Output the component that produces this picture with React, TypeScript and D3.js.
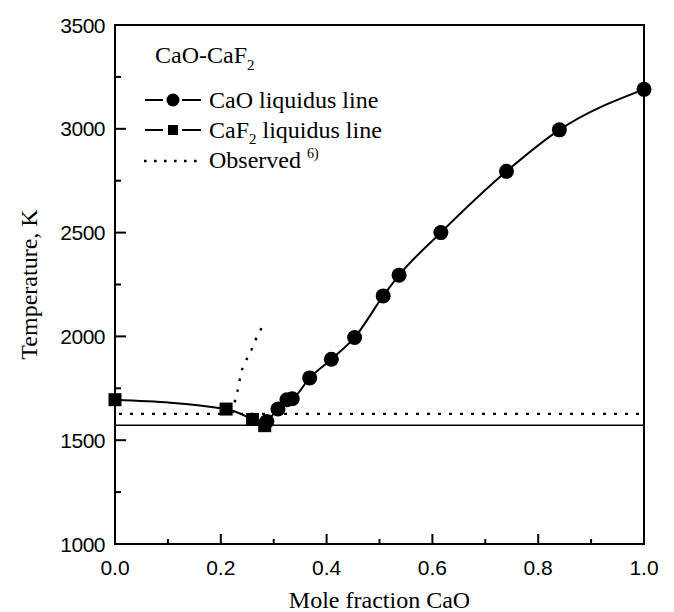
import { useEffect, useRef } from 'react';
import * as d3 from 'd3';

// CaO liquidus (circles)
const caoX = [0.287, 0.308, 0.325, 0.335, 0.368, 0.409, 0.453, 0.507, 0.537, 0.616, 0.74, 0.84, 1.0];
const caoT = [1590, 1650, 1695, 1700, 1800, 1890, 1995, 2195, 2295, 2500, 2795, 2995, 3190];

// CaF2 liquidus (squares)
const caf2X = [0.0, 0.21, 0.26, 0.283];
const caf2T = [1695, 1650, 1600, 1570];

// observed curve (ref. 6)
const obsX = [0.222, 0.226, 0.231, 0.239, 0.247, 0.257, 0.266, 0.278];
const obsT = [1630, 1680, 1730, 1830, 1880, 1930, 1985, 2045];

const eutecticT = 1572;   // solid horizontal
const observedT = 1627;   // dotted horizontal

const xTicks = [0, 0.2, 0.4, 0.6, 0.8, 1.0];
const xMinor = [0.1, 0.3, 0.5, 0.7, 0.9];
const yTicks = [1000, 1500, 2000, 2500, 3000, 3500];
const yMinor = [1250, 1750, 2250, 2750, 3250];

export default function App() {
  const ref = useRef<SVGSVGElement>(null);

  useEffect(() => {
    const el = ref.current;
    if (!el) return;
    const svg = d3.select(el);
    svg.selectAll('*').remove();

    const m = { l: 115, r: 644, t: 25, b: 544 };
    const x = d3.scaleLinear().domain([0, 1]).range([m.l, m.r]);
    const y = d3.scaleLinear().domain([1000, 3500]).range([m.b, m.t]);

    const serif = 'Liberation Serif, Times New Roman, serif';
    const sans = 'Liberation Sans, Arial, sans-serif';

    // frame
    svg.append('rect')
      .attr('x', m.l).attr('y', m.t)
      .attr('width', m.r - m.l).attr('height', m.b - m.t)
      .attr('fill', 'none').attr('stroke', '#000').attr('stroke-width', 2);

    // ticks (inward)
    const g = svg.append('g').attr('stroke', '#000').attr('stroke-width', 2);
    yTicks.forEach(v => g.append('line').attr('x1', m.l).attr('x2', m.l + 11).attr('y1', y(v)).attr('y2', y(v)));
    yMinor.forEach(v => g.append('line').attr('x1', m.l).attr('x2', m.l + 6).attr('y1', y(v)).attr('y2', y(v)));
    xTicks.forEach(v => g.append('line').attr('x1', x(v)).attr('x2', x(v)).attr('y1', m.b).attr('y2', m.b - 10));
    xMinor.forEach(v => g.append('line').attr('x1', x(v)).attr('x2', x(v)).attr('y1', m.b).attr('y2', m.b - 5));

    // tick labels
    svg.append('g').selectAll('text').data(yTicks).join('text')
      .attr('x', m.l - 10).attr('y', d => y(d)).attr('dy', '0.36em')
      .attr('text-anchor', 'end').attr('font-family', sans).attr('font-size', 21)
      .attr('letter-spacing', -0.5)
      .text(d => String(d));
    svg.append('g').selectAll('text').data(xTicks).join('text')
      .attr('x', d => x(d)).attr('y', 575)
      .attr('text-anchor', 'middle').attr('font-family', sans).attr('font-size', 21)
      .text(d => d.toFixed(1));

    // axis titles
    svg.append('text')
      .attr('x', (m.l + m.r) / 2).attr('y', 608)
      .attr('text-anchor', 'middle').attr('font-family', serif).attr('font-size', 24)
      .text('Mole fraction CaO');
    svg.append('text')
      .attr('transform', `translate(37,${(m.t + m.b) / 2}) rotate(-90)`)
      .attr('text-anchor', 'middle').attr('font-family', serif).attr('font-size', 24)
      .text('Temperature, K');

    // horizontal reference lines
    svg.append('line')
      .attr('x1', x(0)).attr('x2', x(1)).attr('y1', y(eutecticT)).attr('y2', y(eutecticT))
      .attr('stroke', '#000').attr('stroke-width', 1.6);
    svg.append('line')
      .attr('x1', x(0) + 4).attr('x2', x(1)).attr('y1', y(observedT)).attr('y2', y(observedT))
      .attr('stroke', '#000').attr('stroke-width', 2.2).attr('stroke-dasharray', '3 8');

    const line = d3.line<[number, number]>()
      .x(d => x(d[0])).y(d => y(d[1]))
      .curve(d3.curveMonotoneX);

    const obs = obsX.map((v, i) => [v, obsT[i]] as [number, number]);
    const caf2 = caf2X.map((v, i) => [v, caf2T[i]] as [number, number]);
    const cao = caoX.map((v, i) => [v, caoT[i]] as [number, number]);

    svg.append('path').datum(obs).attr('d', line)
      .attr('fill', 'none').attr('stroke', '#000').attr('stroke-width', 2.4)
      .attr('stroke-dasharray', '2.5 8.5');

    svg.append('path').datum(caf2).attr('d', line)
      .attr('fill', 'none').attr('stroke', '#000').attr('stroke-width', 2);
    svg.append('path').datum(cao).attr('d', line)
      .attr('fill', 'none').attr('stroke', '#000').attr('stroke-width', 2);

    svg.append('g').selectAll('rect').data(caf2).join('rect')
      .attr('x', d => x(d[0]) - 6.5).attr('y', d => y(d[1]) - 6.5)
      .attr('width', 13).attr('height', 13).attr('fill', '#000');
    svg.append('g').selectAll('circle').data(cao).join('circle')
      .attr('cx', d => x(d[0])).attr('cy', d => y(d[1])).attr('r', 7.5).attr('fill', '#000');

    // legend
    const lg = svg.append('g').attr('font-family', serif).attr('font-size', 24);
    const title = lg.append('text').attr('x', 155).attr('y', 63);
    title.append('tspan').text('CaO-CaF');
    title.append('tspan').attr('font-size', 15).attr('dy', 7).text('2');

    const dash = (y0: number) => {
      lg.append('line').attr('x1', 145).attr('x2', 163).attr('y1', y0).attr('y2', y0)
        .attr('stroke', '#000').attr('stroke-width', 2);
      lg.append('line').attr('x1', 182).attr('x2', 201).attr('y1', y0).attr('y2', y0)
        .attr('stroke', '#000').attr('stroke-width', 2);
    };

    dash(100);
    lg.append('circle').attr('cx', 173).attr('cy', 100).attr('r', 6.5).attr('fill', '#000');
    lg.append('text').attr('x', 209).attr('y', 108).text('CaO liquidus line');

    dash(130);
    lg.append('rect').attr('x', 168).attr('y', 125).attr('width', 10).attr('height', 10).attr('fill', '#000');
    const t2 = lg.append('text').attr('x', 209).attr('y', 138);
    t2.append('tspan').text('CaF');
    t2.append('tspan').attr('font-size', 15).attr('dy', 6).text('2');
    t2.append('tspan').attr('dy', -6).text(' liquidus line');

    lg.append('line').attr('x1', 144).attr('x2', 202).attr('y1', 161).attr('y2', 161)
      .attr('stroke', '#000').attr('stroke-width', 2.6).attr('stroke-dasharray', '2.6 7.4');
    const t3 = lg.append('text').attr('x', 209).attr('y', 168);
    t3.append('tspan').text('Observed');
    t3.append('tspan').attr('font-size', 14).attr('dx', 6).attr('dy', -10).text('6)');
  }, []);

  return (
    <svg
      ref={ref}
      width={674}
      height={612}
      style={{ position: 'absolute', left: 0, top: 0, background: '#fff' }}
    />
  );
}
